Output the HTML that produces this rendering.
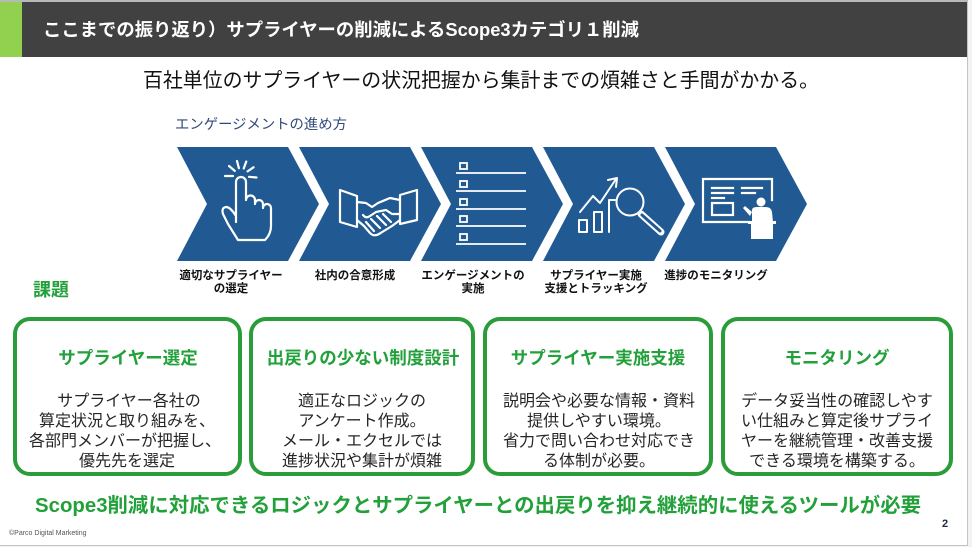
<!DOCTYPE html>
<html><head><meta charset="utf-8"><style>
html,body{margin:0;padding:0;background:#fff;}
svg{display:block;}
text{font-family:"Liberation Sans","Noto Sans CJK JP",sans-serif;}
</style></head><body>
<svg width="972" height="547" viewBox="0 0 972 547" xmlns="http://www.w3.org/2000/svg">
<rect x="0" y="0" width="972" height="547" fill="#f2f2f2"/>
<rect x="0" y="0" width="967" height="545" fill="#ffffff"/>
<line x1="967.5" y1="0" x2="967.5" y2="546" stroke="#c4c4c4" stroke-width="1"/>
<line x1="0" y1="545.5" x2="968" y2="545.5" stroke="#c4c4c4" stroke-width="1"/>
<rect x="0" y="0" width="968" height="2" fill="#b8b8b8"/>
<!-- header -->
<rect x="0" y="2" width="967" height="55" fill="#414141"/>
<rect x="0" y="2" width="22" height="55" fill="#92d050"/>
<text x="43" y="36" font-size="18" font-weight="bold" fill="#ffffff" textLength="596" lengthAdjust="spacingAndGlyphs">ここまでの振り返り）サプライヤーの削減によるScope3カテゴリ１削減</text>
<!-- subtitle -->
<text x="143" y="87" font-size="20" fill="#111111" textLength="676" lengthAdjust="spacingAndGlyphs">百社単位のサプライヤーの状況把握から集計までの煩雑さと手間がかかる。</text>
<text x="175" y="129" font-size="14" fill="#2f4a7a" textLength="172" lengthAdjust="spacingAndGlyphs">エンゲージメントの進め方</text>

<!-- chevrons -->
<g fill="#215a93">
<polygon points="177,147 288,147 319,204 288,261 177,261 207,204"/>
<polygon points="299,147 410,147 441,204 410,261 299,261 329,204"/>
<polygon points="421,147 532,147 563,204 532,261 421,261 451,204"/>
<polygon points="543,147 654,147 685,204 654,261 543,261 573,204"/>
<polygon points="665,147 776,147 807,204 776,261 665,261 695,204"/>
</g>

<!-- icon 1: hand -->
<g stroke="#ffffff" stroke-width="2.2" fill="none" stroke-linecap="round" stroke-linejoin="round">
<path d="M236,222 L236,182 A5,5 0 0 1 246,182 L246,200 A4.5,4.5 0 0 1 255,200 L255,204 A4,4 0 0 1 263,204 L263,208 A4,4 0 0 1 271,208 L271,226 Q271,234 265,240 L238,240 Q233,232 228,224 L223,214 Q221,207 227,207 Q231,208 236,216"/>
<line x1="233" y1="176" x2="225" y2="176"/>
<line x1="234.8" y1="170.9" x2="229" y2="166"/>
<line x1="238.9" y1="168.2" x2="237" y2="161"/>
<line x1="243.7" y1="168.5" x2="246.3" y2="161.5"/>
<line x1="247.6" y1="171.4" x2="253.5" y2="167.3"/>
<line x1="249" y1="176.8" x2="256.5" y2="177.5"/>
</g>

<!-- icon 2: handshake -->
<g stroke="#ffffff" stroke-width="2.2" fill="none" stroke-linecap="round" stroke-linejoin="round">
<polygon points="340,190 357,196 357,227 340,222"/>
<polygon points="400,195 417,190 417,220 400,224"/>
<path d="M357,202 L366,203 L372,207 L378,203 L390,198 L400,200"/>
<path d="M400,214 L392,214 L386,210 L376,212 L370,216 Q366,219 363,215"/>
<path d="M357,220 L364,226 L370,233 Q374,237 379,234 L392,226 L400,220"/>
<line x1="366" y1="222" x2="374" y2="231"/>
<line x1="371" y1="219" x2="380" y2="228"/>
<line x1="377" y1="216" x2="386" y2="225"/>
<line x1="383" y1="214" x2="391" y2="222"/>
</g>

<!-- icon 3: checklist -->
<g stroke="#ffffff" stroke-width="1.8" fill="none">
<rect x="460" y="163" width="7" height="6"/>
<rect x="460" y="181" width="7" height="6"/>
<rect x="460" y="199" width="7" height="6"/>
<rect x="460" y="216" width="7" height="6"/>
<rect x="460" y="234" width="7" height="6"/>
<line x1="456" y1="173" x2="526" y2="173"/>
<line x1="456" y1="191" x2="526" y2="191"/>
<line x1="456" y1="209" x2="526" y2="209"/>
<line x1="456" y1="226" x2="526" y2="226"/>
<line x1="456" y1="244" x2="526" y2="244"/>
</g>

<!-- icon 4: chart + magnifier -->
<g stroke="#ffffff" stroke-width="2" fill="none" stroke-linejoin="round" stroke-linecap="round">
<rect x="579" y="220" width="8" height="12"/>
<rect x="594" y="212" width="8" height="20"/>
<path d="M609,232 L609,200 L615,200"/>
<path d="M580,212 L593,196 L600,203 L616,179"/>
<path d="M608,180 L617,178 L616,187"/>
<circle cx="630" cy="202" r="13.5"/>
<line x1="641" y1="214" x2="661" y2="232" stroke-width="7"/>
<line x1="642" y1="215" x2="660" y2="231" stroke="#215a93" stroke-width="3"/>
</g>

<!-- icon 5: presentation -->
<g stroke="#ffffff" stroke-width="2.2" fill="none" stroke-linecap="square">
<path d="M749,222 L703,222 L703,179 L772,179 L772,200"/>
<line x1="712" y1="188" x2="733" y2="188"/>
<line x1="742" y1="188" x2="762" y2="188"/>
<line x1="712" y1="193" x2="733" y2="193"/>
<line x1="742" y1="193" x2="755" y2="193"/>
<line x1="712" y1="198" x2="724" y2="198"/>
<rect x="712" y="203" width="21" height="12"/>
</g>
<g fill="#ffffff">
<circle cx="761" cy="202" r="4.5"/>
<path d="M752,210 Q752,207 757,207 L766,207 Q771,207 772,212 L773,222 L752,222 Z"/>
<path d="M752,212 L745,206 L743,208 L750,216 Z"/>
<rect x="748" y="221" width="28" height="3"/>
<rect x="751" y="224" width="22" height="15"/>
</g>

<!-- chevron labels -->
<g font-size="11.5" font-weight="bold" fill="#111111" text-anchor="middle">
<text x="231" y="279">適切なサプライヤー</text>
<text x="231" y="292">の選定</text>
<text x="355" y="279">社内の合意形成</text>
<text x="473" y="279">エンゲージメントの</text>
<text x="473" y="292">実施</text>
<text x="596" y="279">サプライヤー実施</text>
<text x="596" y="292">支援とトラッキング</text>
<text x="716" y="279">進捗のモニタリング</text>
</g>

<!-- 課題 -->
<text x="33" y="296" font-size="18" font-weight="bold" fill="#22a03a">課題</text>

<!-- boxes -->
<g fill="none" stroke="#2a9d3a" stroke-width="4">
<rect x="15" y="319" width="225" height="155" rx="15" ry="15"/>
<rect x="251" y="319" width="222" height="155" rx="15" ry="15"/>
<rect x="485" y="319" width="226" height="155" rx="15" ry="15"/>
<rect x="723" y="319" width="228" height="155" rx="15" ry="15"/>
</g>
<g font-size="17.5" font-weight="bold" fill="#22a03a" text-anchor="middle">
<text x="128" y="364">サプライヤー選定</text>
<text x="363" y="364">出戻りの少ない制度設計</text>
<text x="598" y="364">サプライヤー実施支援</text>
<text x="837" y="364">モニタリング</text>
</g>
<g font-size="16" fill="#262626" text-anchor="middle">
<text x="129" y="406">サプライヤー各社の</text>
<text x="127" y="426">算定状況と取り組みを、</text>
<text x="125" y="446">各部門メンバーが把握し、</text>
<text x="127" y="466">優先先を選定</text>
<text x="362" y="406">適正なロジックの</text>
<text x="362" y="426">アンケート作成。</text>
<text x="362" y="446">メール・エクセルでは</text>
<text x="362" y="466">進捗状況や集計が煩雑</text>
<text x="599" y="406">説明会や必要な情報・資料</text>
<text x="599" y="426">提供しやすい環境。</text>
<text x="599" y="446">省力で問い合わせ対応でき</text>
<text x="599" y="466">る体制が必要。</text>
<text x="837" y="406">データ妥当性の確認しやす</text>
<text x="837" y="426">い仕組みと算定後サプライ</text>
<text x="837" y="446">ヤーを継続管理・改善支援</text>
<text x="837" y="466">できる環境を構築する。</text>
</g>

<!-- bottom conclusion -->
<text x="35" y="512" font-size="20" font-weight="bold" fill="#22a03a" textLength="886" lengthAdjust="spacingAndGlyphs">Scope3削減に対応できるロジックとサプライヤーとの出戻りを抑え継続的に使えるツールが必要</text>

<text x="9" y="535" font-size="7" fill="#555555">©Parco Digital Marketing</text>
<text x="942" y="527" font-size="11" font-weight="bold" fill="#1f2a44">2</text>
</svg>
</body></html>
